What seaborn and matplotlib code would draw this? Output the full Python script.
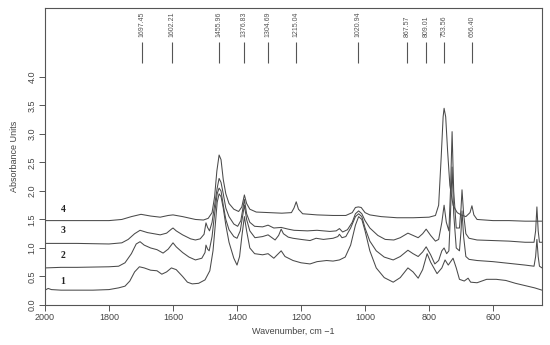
import numpy as np
import pandas as pd
import matplotlib
matplotlib.use("Agg")
import matplotlib.pyplot as plt
import seaborn as sns

# spectra: (wavenumber, absorbance)
curve4 = [(2000,1.48),(1900,1.48),(1800,1.48),(1760,1.50),(1730,1.55),(1700,1.59),(1670,1.56),
          (1640,1.54),(1615,1.57),(1600,1.58),(1570,1.55),(1530,1.50),(1505,1.49),(1490,1.52),
          (1478,1.62),(1470,1.90),(1463,2.35),(1456,2.63),(1450,2.55),(1443,2.20),(1435,1.95),
          (1425,1.78),(1410,1.68),(1395,1.64),(1385,1.72),(1377,1.93),(1370,1.78),(1360,1.68),
          (1340,1.63),(1300,1.62),(1260,1.61),(1230,1.62),(1222,1.70),(1215,1.81),(1208,1.68),
          (1195,1.60),(1150,1.58),(1100,1.57),(1060,1.57),(1040,1.62),(1030,1.71),(1021,1.72),
          (1012,1.71),(1000,1.62),(985,1.58),(950,1.55),(900,1.53),(850,1.53),(800,1.54),
          (780,1.57),(770,1.75),(762,2.60),(756,3.30),(753,3.45),(748,3.30),(742,2.70),
          (735,2.10),(725,1.75),(712,1.62),(700,1.58),(685,1.55),(672,1.62),(666,1.74),
          (660,1.58),(650,1.50),(600,1.48),(550,1.48),(500,1.47),(447,1.47)]

curve3 = [(2000,1.08),(1900,1.08),(1800,1.07),(1760,1.09),(1740,1.15),(1720,1.25),(1703,1.31),
          (1680,1.27),(1660,1.25),(1640,1.23),(1620,1.26),(1605,1.33),(1600,1.35),(1590,1.30),
          (1570,1.23),(1545,1.16),(1530,1.14),(1515,1.16),(1503,1.24),(1497,1.44),(1492,1.36),
          (1486,1.30),(1478,1.45),(1470,1.75),(1462,2.05),(1456,2.22),(1450,2.15),(1443,1.95),
          (1435,1.70),(1425,1.55),(1410,1.42),(1398,1.38),(1388,1.48),(1377,1.85),(1370,1.60),
          (1360,1.45),(1345,1.38),(1320,1.37),(1303,1.40),(1285,1.35),(1262,1.36),(1240,1.33),
          (1222,1.31),(1180,1.30),(1150,1.31),(1110,1.29),(1090,1.30),(1080,1.34),(1070,1.28),
          (1055,1.32),(1040,1.45),(1030,1.60),(1020,1.65),(1010,1.60),(1000,1.48),(985,1.35),
          (960,1.22),(937,1.15),(910,1.14),(890,1.18),(866,1.26),(850,1.22),(834,1.18),
          (820,1.25),(809,1.33),(795,1.22),(780,1.12),(770,1.15),(760,1.45),(753,1.75),
          (746,1.45),(738,1.30),(733,2.00),(728,3.04),(723,2.00),(715,1.35),(705,1.35),
          (700,1.70),(697,2.02),(692,1.60),(685,1.25),(675,1.17),(650,1.14),(600,1.13),
          (550,1.12),(500,1.10),(472,1.10),(467,1.30),(463,1.72),(459,1.30),(455,1.10),(447,1.10)]

curve2 = [(2000,0.65),(1950,0.66),(1900,0.66),(1800,0.67),(1770,0.68),(1750,0.74),(1730,0.90),
          (1715,1.07),(1703,1.11),(1690,1.05),(1670,1.00),(1650,0.97),(1631,0.91),(1615,0.98),
          (1600,1.09),(1590,1.02),(1570,0.92),(1550,0.84),(1530,0.79),(1510,0.82),(1500,0.92),
          (1497,1.05),(1492,0.98),(1487,0.95),(1478,1.20),(1470,1.60),(1462,1.95),(1456,2.05),
          (1450,2.00),(1443,1.75),(1435,1.50),(1425,1.32),(1410,1.20),(1400,1.17),(1390,1.30),
          (1377,1.75),(1370,1.50),(1360,1.30),(1344,1.18),(1320,1.20),(1303,1.23),(1281,1.14),
          (1270,1.22),(1262,1.33),(1255,1.25),(1240,1.19),(1225,1.17),(1200,1.15),(1172,1.13),
          (1153,1.17),(1130,1.15),(1100,1.17),(1085,1.20),(1080,1.24),(1072,1.18),(1060,1.20),
          (1045,1.35),(1030,1.55),(1020,1.60),(1010,1.55),(1000,1.35),(985,1.12),(965,0.95),
          (940,0.84),(912,0.79),(890,0.85),(866,0.96),(850,0.90),(834,0.85),(820,0.93),
          (809,1.02),(795,0.88),(782,0.72),(770,0.78),(760,0.95),(753,1.00),(745,0.90),
          (738,0.95),(733,1.60),(728,2.42),(723,1.60),(715,1.00),(705,0.95),(700,1.30),
          (697,1.65),(692,1.20),(685,0.85),(675,0.80),(650,0.78),(600,0.76),(550,0.73),
          (500,0.70),(472,0.68),(467,0.85),(463,1.15),(459,0.85),(455,0.68),(447,0.65)]

curve1 = [(2000,0.26),(1990,0.29),(1980,0.27),(1950,0.26),(1900,0.26),(1850,0.26),(1800,0.27),
          (1770,0.30),(1750,0.33),(1735,0.42),(1720,0.58),(1705,0.67),(1690,0.65),(1670,0.61),
          (1650,0.60),(1635,0.54),(1620,0.58),(1605,0.65),(1590,0.62),(1570,0.50),(1555,0.40),
          (1540,0.37),(1520,0.38),(1500,0.44),(1485,0.60),(1475,0.95),(1468,1.40),(1462,1.80),
          (1456,1.95),(1450,1.90),(1443,1.70),(1435,1.40),(1425,1.10),(1410,0.82),(1400,0.70),
          (1392,0.85),(1385,1.20),(1377,1.55),(1370,1.30),(1360,1.00),(1345,0.90),(1320,0.88),
          (1303,0.90),(1285,0.82),(1262,0.95),(1250,0.85),(1225,0.78),(1200,0.74),(1172,0.72),
          (1150,0.76),(1120,0.78),(1100,0.77),(1080,0.79),(1062,0.84),(1045,1.05),(1030,1.40),
          (1020,1.55),(1010,1.50),(1000,1.30),(985,0.95),(965,0.65),(940,0.48),(912,0.40),
          (890,0.48),(866,0.65),(850,0.58),(834,0.47),(820,0.62),(806,0.90),(795,0.75),
          (775,0.55),(760,0.65),(750,0.79),(740,0.70),(725,0.82),(715,0.65),(705,0.45),
          (690,0.42),(678,0.47),(670,0.40),(650,0.39),(620,0.45),(590,0.45),(560,0.43),
          (530,0.38),(500,0.34),(470,0.30),(447,0.26)]

peak_wn = [1697.45, 1602.21, 1455.96, 1376.83, 1304.69, 1215.04, 1020.94, 867.57, 809.01, 753.56, 666.40]
peak_labels = ["1697.45", "1602.21", "1455.96", "1376.83", "1304.69", "1215.04",
               "1020.94", "867.57", "809.01", "753.56", "666.40"]

curve_names = ["1", "2", "3", "4"]
name_y = [0.42, 0.86, 1.30, 1.67]

sns.set_style("white")
plt.rcParams['font.family'] = ['Liberation Sans', 'DejaVu Sans']

fig = plt.figure(figsize=(5.5, 3.45), dpi=100)
ax = fig.add_axes([0.0818, 0.116, 0.9037, 0.861])

line_col = "#4a4a4a"
for c in [curve1, curve2, curve3, curve4]:
    d = pd.DataFrame(c, columns=["wn", "A"])
    sns.lineplot(data=d, x="wn", y="A", ax=ax, color=line_col, lw=0.75,
                 estimator=None, sort=False)

# peak markers on top
ax.vlines(peak_wn, 4.25, 4.61, color="#555555", lw=0.8)
for w, lab in zip(peak_wn, peak_labels):
    ax.text(w, 4.70, lab, rotation=90, ha="center", va="bottom", fontsize=5, color="#555555")

for n, yv in zip(curve_names, name_y):
    ax.text(1944, yv, n, ha="center", va="center", fontsize=7, fontweight="bold",
            family=["Liberation Serif", "DejaVu Serif"], color="#222222")

ax.set_xlim(2000, 447)
ax.set_ylim(0, 5.21)
ax.set_xticks([2000, 1800, 1600, 1400, 1200, 1000, 800, 600])
ax.set_yticks(np.arange(0, 4.01, 0.5))
ax.set_yticklabels([f"{v:.1f}" for v in np.arange(0, 4.01, 0.5)], rotation=90, va="center")
ax.tick_params(axis="both", direction="out", length=4, width=0.7, color="#555555",
               labelsize=6.5, labelcolor="#444444", pad=2, bottom=True, left=True)
ax.set_xlabel("Wavenumber, cm \u22121", fontsize=6.5, color="#444444", labelpad=3)
ax.set_ylabel("Absorbance Units", fontsize=6.5, color="#444444", labelpad=6)
for s in ax.spines.values():
    s.set_color("#555555")
    s.set_linewidth(0.8)

fig.savefig("out.png", dpi=100)
